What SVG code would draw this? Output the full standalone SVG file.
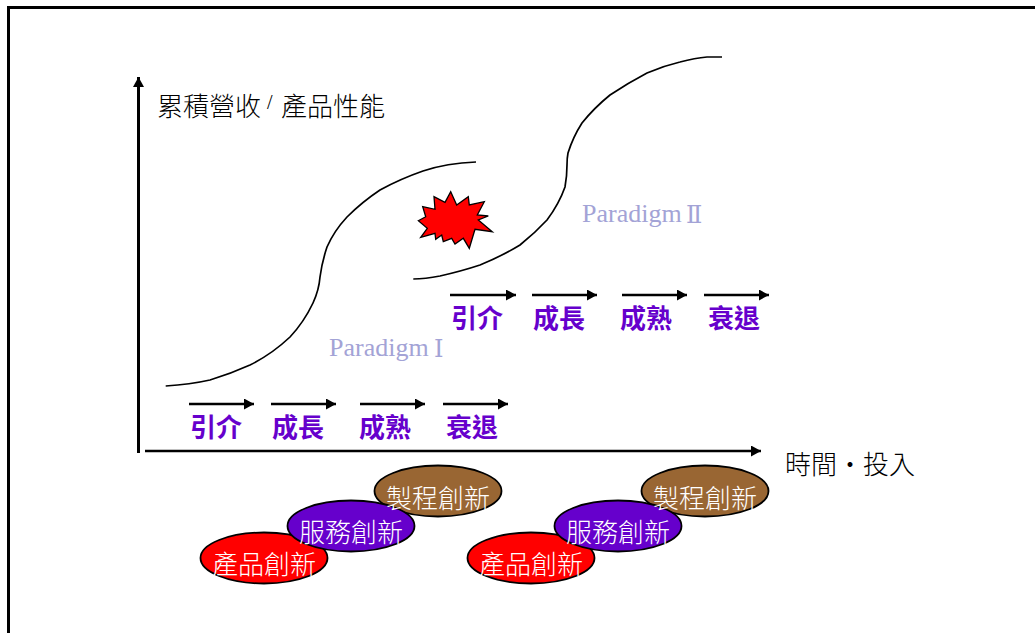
<svg xmlns="http://www.w3.org/2000/svg" width="1035" height="633" viewBox="0 0 1035 633">
<style>
text{font-family:"Liberation Serif","Noto Sans CJK TC",serif}
.cjk{font-family:"Noto Sans CJK TC","Noto Sans CJK SC",sans-serif}
.ax{font-size:26px;fill:#000;font-weight:300}
.st{font-size:26px;fill:#6600cc;font-weight:700;text-anchor:middle}
.pd{font-size:26px;fill:#a3a3d6}
.rn{font-family:"DejaVu Serif",serif;font-size:24px}
.el{stroke:#000;stroke-width:1.8}
.in{font-size:26px;fill:#fff;text-anchor:middle;font-weight:300}
.a{stroke:#000;stroke-width:2.5;fill:none;marker-end:url(#h)}
.c{stroke:#000;stroke-width:1.7;fill:none}
</style>
<defs><marker id="h" markerUnits="userSpaceOnUse" markerWidth="12" markerHeight="12" refX="10" refY="5.500" orient="auto"><path d="M0 0L10 5.500L0 11Z" fill="#000"/></marker></defs>
<rect width="1035" height="633" fill="#fff"/>
<path d="M8.500 633V7.500H1035" fill="none" stroke="#000" stroke-width="3"/>
<g id="connectors">
<path class="a" style="stroke-width:3" d="M138.500 453V77"/>
<path class="a" d="M145 451H761"/>
<path class="c" d="M165.700 386Q190 384.500 210 380Q230 374 250 365Q272 354 290 337Q304 322 313 303Q319 290 320 277Q322 262 327 247Q334 231 347 217Q362 202 380 190Q400 179 423 171Q447 163 476 162"/>
<path class="c" d="M413.300 279Q425 279 440 276Q462 271 480 265Q502 256 520 245Q535 233 547 220Q559 204 565 187Q567 176 567 165Q567 158 568 153Q573 137 582 123Q594 108 610 95Q628 83 647 73Q663 66 680 62Q695 58 707 57L722 57"/>
<path class="a" d="M189 404H254"/><path class="a" d="M271 404H336"/><path class="a" d="M360 404H425"/><path class="a" d="M443 404H508"/>
<path class="a" d="M450 295H516"/><path class="a" d="M532 295H597"/><path class="a" d="M622 295H687"/><path class="a" d="M704 295H769"/>
</g>
<g id="axis-y-label"><text class="ax cjk" x="157" y="116">累積營收</text><text x="267" y="109" font-size="20">/</text><text class="ax cjk" x="281" y="116">產品性能</text></g>
<g id="axis-x-label"><text class="ax cjk" x="785" y="474">時間・投入</text></g>
<g id="burst"><path d="M418.300 220.700L425.700 216.700L422.700 206.700L435 209.300L434 196.700L445 202.300L450.700 191.700L456.700 205L468.300 196.700L469.300 205L484.300 201.700L477.300 215L488.300 216L478.300 220L492.300 231.700L475 229.300L469.300 248.300L463.300 238.300L455 244L451.700 238.300L443.300 241.700L441.700 235L435.700 239.300L435 233.300L420.700 237.300L427.300 228.300Z" fill="#f00" stroke="#000" stroke-width="1.3"/></g>
<g id="paradigm-1"><text class="pd" x="329" y="356">Paradigm</text><text class="pd rn" x="434" y="357">Ⅰ</text></g>
<g id="paradigm-2"><text class="pd" x="582" y="222">Paradigm</text><text class="pd rn" x="686" y="223">Ⅱ</text></g>
<g id="stages-1">
<text class="st cjk" x="216" y="437">引介</text><text class="st cjk" x="298" y="437">成長</text><text class="st cjk" x="385" y="437">成熟</text><text class="st cjk" x="472" y="437">衰退</text>
</g>
<g id="stages-2">
<text class="st cjk" x="477" y="328">引介</text><text class="st cjk" x="559" y="328">成長</text><text class="st cjk" x="646" y="328">成熟</text><text class="st cjk" x="734" y="328">衰退</text>
</g>
<g id="process-1"><ellipse class="el" cx="438" cy="491" rx="63.500" ry="25.500" fill="#996633"/></g>
<g id="product-1"><ellipse class="el" cx="264" cy="558" rx="63.500" ry="25.500" fill="#f00"/><text class="in cjk" x="264" y="574">產品創新</text></g>
<g id="service-1"><ellipse class="el" cx="351" cy="526" rx="63.500" ry="25.500" fill="#6600cc"/><text class="in cjk" x="351" y="542">服務創新</text></g>
<g id="process-1-label"><text class="in cjk" x="438" y="508">製程創新</text></g>
<g id="process-2"><ellipse class="el" cx="705" cy="491" rx="63.500" ry="25.500" fill="#996633"/></g>
<g id="product-2"><ellipse class="el" cx="531" cy="558" rx="63.500" ry="25.500" fill="#f00"/><text class="in cjk" x="531" y="574">產品創新</text></g>
<g id="service-2"><ellipse class="el" cx="618" cy="526" rx="63.500" ry="25.500" fill="#6600cc"/><text class="in cjk" x="618" y="542">服務創新</text></g>
<g id="process-2-label"><text class="in cjk" x="705" y="508">製程創新</text></g>
</svg>
